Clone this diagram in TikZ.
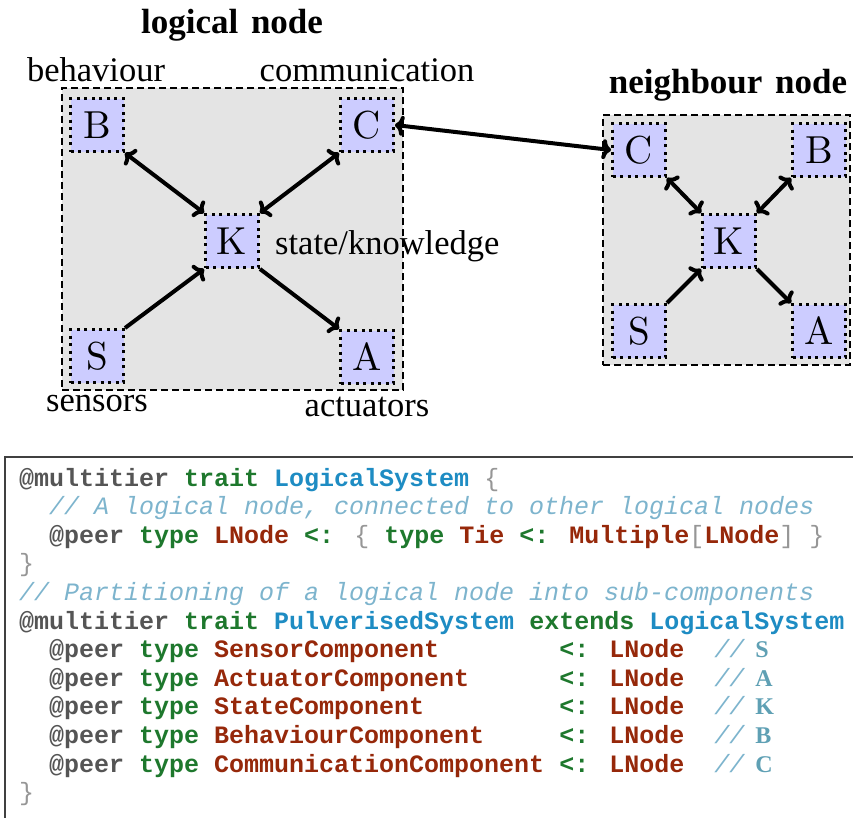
\documentclass[tikz,border=0pt]{standalone}
\usepackage{fontspec}
\usetikzlibrary{arrows.meta}
\newfontfamily\tms{Liberation Serif}
\newfontfamily\codefont{Liberation Mono}
\newfontfamily\lmten{lmroman10-regular}[Extension=.otf]
\definecolor{cgray}{RGB}{85,85,85}
\definecolor{cgreen}{RGB}{30,120,45}
\definecolor{cblue}{RGB}{30,140,195}
\definecolor{cred}{RGB}{150,40,10}
\definecolor{ccom}{RGB}{125,180,205}
\definecolor{cbr}{RGB}{150,150,150}
\definecolor{cletter}{RGB}{95,160,180}
\definecolor{boxgray}{RGB}{228,228,228}
\definecolor{lav}{RGB}{204,204,255}
\newcommand\cAnn[1]{{\color{cgray}\bfseries #1}}
\newcommand\cKw[1]{{\color{cgreen}\bfseries #1}}
\newcommand\cTy[1]{{\color{cred}\bfseries #1}}
\newcommand\cCl[1]{{\color{cblue}\bfseries #1}}
\newcommand\cCm[1]{{\color{ccom}\mdseries\itshape #1}}
\newcommand\cBr[1]{{\color{cbr}\mdseries #1}}
\newcommand\cLt[1]{{\color{cletter}\tms\bfseries\fontsize{24}{24}\selectfont #1}}
\tikzset{
  comp/.style={draw, fill=lav, line width=3pt, dash pattern=on 3pt off 4.5pt,
    minimum width=53pt, minimum height=53pt, inner sep=0pt,
    font=\lmten\fontsize{39}{39}\selectfont},
  region/.style={draw, fill=boxgray, line width=1.4pt, dash pattern=on 7pt off 4pt, inner sep=0pt},
  lbl/.style={inner sep=0pt, anchor=base, font=\tms\fontsize{34.5}{34.5}\selectfont},
  ttl/.style={inner sep=0pt, anchor=base, font=\tms\bfseries\fontsize{35}{35}\selectfont},
  link/.style={line width=4pt},
  codeline/.style={inner sep=0pt, anchor=base west, font=\codefont\fontsize{25}{25}\selectfont},
  >={To[length=9pt,width=20pt]}
}
\begin{document}
\begin{tikzpicture}[x=1pt,y=-1pt]
\useasboundingbox (0,0) rectangle (853,817);
\clip (0,0) rectangle (853,817);
% regions
\node[region, minimum width=341pt, minimum height=302pt] (R1) at (232.5,239) {};
\node[region, minimum width=247pt, minimum height=250pt] (R2) at (726.5,240) {};
% logical node components
\node[comp] (B1) at (97,125) {B};
\node[comp] (C1) at (367,125) {C};
\node[comp] (K1) at (232,241) {K};
\node[comp] (S1) at (97,356) {S};
\node[comp] (A1) at (367,357) {A};
% neighbour node components
\node[comp] (C2) at (639,150) {C};
\node[comp] (B2) at (819,150) {B};
\node[comp] (K2) at (729,241) {K};
\node[comp] (S2) at (639,331) {S};
\node[comp] (A2) at (819,331) {A};
% connectors
\draw[link,<->] (B1.south east) -- (K1.north west);
\draw[link,<->] (C1.south west) -- (K1.north east);
\draw[link,->] (S1.north east) -- (K1.south west);
\draw[link,->] (K1.south east) -- (A1.north west);
\draw[link,<->] (C1.east) -- (C2.west);
\draw[link,<->] (C2.south east) -- (K2.north west);
\draw[link,<->] (B2.south west) -- (K2.north east);
\draw[link,->] (S2.north east) -- (K2.south west);
\draw[link,->] (K2.south east) -- (A2.north west);
% labels
\node[ttl] (t1) at (232,33) {logical\hspace{4pt} node};
\node[ttl] (t2) at (728,93) {neighbour\hspace{4pt} node};
\node[lbl] (lb) at (96,81) {behaviour};
\node[lbl] (lc) at (367,81) {communication};
\node[lbl, anchor=base west] (lk) at (275,254) {state/knowledge};
\node[lbl] (ls) at (97,411) {sensors};
\node[lbl] (la) at (367,416) {actuators};
% code frame
\draw[line width=1.3pt, draw=black!75] (5,840) -- (5,457) -- (870,457);
% code lines
\node[codeline] (l1) at (19,486) {\cAnn{@multitier} \cKw{trait} \cCl{LogicalSystem} \cBr{\{}};
\node[codeline] (l2) at (49,514.6) {\cCm{// A logical node, connected to other logical nodes}};
\node[codeline] (l3) at (49,543.2) {\cAnn{@peer} \cKw{type} \cTy{LNode} \cKw{<:} \cBr{\{} \cKw{type} \cTy{Tie} \cKw{<:} \cTy{Multiple}\cBr{[}\cTy{LNode}\cBr{]} \cBr{\}}};
\node[codeline] (l4) at (19,571.8) {\cBr{\}}};
\node[codeline] (l5) at (19,600.4) {\cCm{// Partitioning of a logical node into sub-components}};
\node[codeline] (l6) at (19,629) {\cAnn{@multitier} \cKw{trait} \cCl{PulverisedSystem} \cKw{extends} \cCl{LogicalSystem}};
\node[codeline] (l7) at (49,657.6) {\cAnn{@peer} \cKw{type} \cTy{SensorComponent}~~~~~~~~\cKw{<:} \cTy{LNode}~~\cCm{//}\hspace{11pt}\cLt{S}};
\node[codeline] (l8) at (49,686.2) {\cAnn{@peer} \cKw{type} \cTy{ActuatorComponent}~~~~~~\cKw{<:} \cTy{LNode}~~\cCm{//}\hspace{11pt}\cLt{A}};
\node[codeline] (l9) at (49,714.8) {\cAnn{@peer} \cKw{type} \cTy{StateComponent}~~~~~~~~~\cKw{<:} \cTy{LNode}~~\cCm{//}\hspace{11pt}\cLt{K}};
\node[codeline] (l10) at (49,743.4) {\cAnn{@peer} \cKw{type} \cTy{BehaviourComponent}~~~~~\cKw{<:} \cTy{LNode}~~\cCm{//}\hspace{11pt}\cLt{B}};
\node[codeline] (l11) at (49,772) {\cAnn{@peer} \cKw{type} \cTy{CommunicationComponent}~\cKw{<:} \cTy{LNode}~~\cCm{//}\hspace{11pt}\cLt{C}};
\node[codeline] (l12) at (19,800.6) {\cBr{\}}};
\end{tikzpicture}
\end{document}
